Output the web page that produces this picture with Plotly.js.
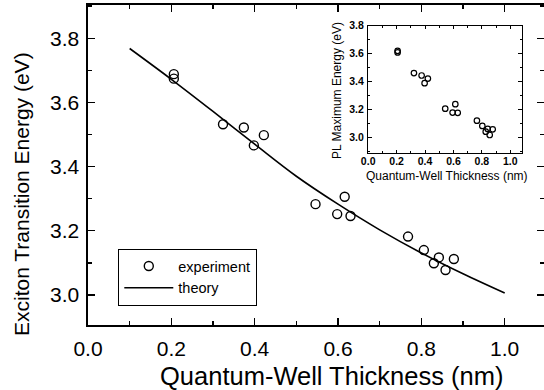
<!DOCTYPE html>
<html>
<head>
<meta charset="utf-8">
<script src="https://cdn.plot.ly/plotly-3.0.1.min.js"></script>
<style>html,body{margin:0;padding:0;background:#fff;}#chart{width:544px;height:390px;}</style>
</head>
<body>
<div id="chart"></div>
<script>
// Main panel: experimental exciton transition energies
const thicknessExp = [0.206, 0.206, 0.324, 0.374, 0.398, 0.422, 0.546, 0.598, 0.616, 0.630, 0.768, 0.806, 0.830, 0.842, 0.858, 0.878];
const energyExp    = [3.688, 3.674, 3.532, 3.522, 3.466, 3.498, 3.283, 3.252, 3.306, 3.246, 3.182, 3.140, 3.099, 3.117, 3.078, 3.112];
// Main panel: theory curve
const thicknessTheory = [0.1, 0.2, 0.3, 0.4, 0.5, 0.6, 0.7, 0.8, 0.9, 1.0];
const energyTheory    = [3.768, 3.672, 3.572, 3.470, 3.370, 3.283, 3.203, 3.131, 3.066, 3.006];
// Inset: PL maximum energy
const thicknessPL = [0.207, 0.207, 0.322, 0.376, 0.397, 0.420, 0.542, 0.594, 0.613, 0.630, 0.765, 0.803, 0.827, 0.841, 0.855, 0.876];
const energyPL    = [3.620, 3.608, 3.460, 3.443, 3.388, 3.421, 3.205, 3.177, 3.237, 3.175, 3.119, 3.081, 3.040, 3.060, 3.016, 3.057];

const xTickVals = [0.0, 0.2, 0.4, 0.6, 0.8, 1.0];
const xTickText = ['0.0', '0.2', '0.4', '0.6', '0.8', '1.0'];
const yTickVals = [3.0, 3.2, 3.4, 3.6, 3.8];
const yTickText = ['3.0', '3.2', '3.4', '3.6', '3.8'];

const FONT = 'Liberation Sans, Arial, Helvetica, sans-serif';

const traces = [
  {
    x: thicknessExp, y: energyExp, type: 'scatter', mode: 'markers', name: 'experiment',
    marker: {symbol: 'circle-open', size: 9, color: 'black', line: {width: 1.4, color: 'black'}},
    xaxis: 'x', yaxis: 'y'
  },
  {
    x: thicknessTheory, y: energyTheory, type: 'scatter', mode: 'lines', name: 'theory',
    line: {color: 'black', width: 1.6, shape: 'spline', smoothing: 1},
    xaxis: 'x', yaxis: 'y'
  },
  {
    x: thicknessPL, y: energyPL, type: 'scatter', mode: 'markers', name: 'PL', showlegend: false,
    marker: {symbol: 'circle-open', size: 5.5, color: 'black', line: {width: 1.2, color: 'black'}},
    xaxis: 'x2', yaxis: 'y2'
  }
];

const axisCommon = {
  showgrid: false, zeroline: false, showline: true, linecolor: 'black',
  ticks: 'inside', tickcolor: 'black', mirror: 'ticks'
};

const layout = {
  width: 544, height: 390,
  margin: {l: 88, r: 0, t: 5, b: 65, pad: 0},
  paper_bgcolor: 'white', plot_bgcolor: 'white',
  font: {family: FONT, color: 'black'},
  showlegend: true,
  legend: {
    x: 0.066, y: 0.238, xanchor: 'left', yanchor: 'top',
    bordercolor: 'black', borderwidth: 1.2, bgcolor: 'white',
    font: {family: FONT, size: 14.5, color: 'black'},
    itemwidth: 49, tracegroupgap: 0
  },
  xaxis: Object.assign({}, axisCommon, {
    range: [0, 1.0943], tickvals: xTickVals, ticktext: xTickText,
    ticklen: 7, tickwidth: 1.3, linewidth: 1.6,
    tickfont: {family: FONT, size: 21, color: 'black'},
    ticklabelstandoff: 4,
    minor: {dtick: 0.1, tick0: 0, ticks: 'inside', ticklen: 4, tickcolor: 'black', tickwidth: 1.3},
    domain: [0, 1]
  }),
  yaxis: Object.assign({}, axisCommon, {
    range: [2.9065, 3.9035], tickvals: yTickVals, ticktext: yTickText,
    ticklen: 7, tickwidth: 1.3, linewidth: 1.6,
    tickfont: {family: FONT, size: 21, color: 'black'},
    ticklabelstandoff: 3,
    minor: {dtick: 0.1, tick0: 3.0, ticks: 'inside', ticklen: 4, tickcolor: 'black', tickwidth: 1.3},
    domain: [0, 1]
  }),
  xaxis2: Object.assign({}, axisCommon, {
    anchor: 'y2', domain: [0.6144, 0.9511], range: [0, 1.08],
    tickvals: xTickVals, ticktext: xTickText,
    ticklen: 3.5, tickwidth: 1, linewidth: 1.2,
    tickfont: {family: FONT, size: 10.5, color: 'black', weight: 'bold'},
    ticklabelstandoff: -2,
    minor: {dtick: 0.1, tick0: 0, ticks: 'inside', ticklen: 2, tickcolor: 'black', tickwidth: 1}
  }),
  yaxis2: Object.assign({}, axisCommon, {
    anchor: 'x2', domain: [0.5366, 0.9353], range: [2.885, 3.8],
    tickvals: yTickVals, ticktext: yTickText,
    ticklen: 3.5, tickwidth: 1, linewidth: 1.2,
    tickfont: {family: FONT, size: 10.5, color: 'black', weight: 'bold'},
    ticklabelstandoff: 1,
    minor: {dtick: 0.1, tick0: 3.0, ticks: 'inside', ticklen: 2, tickcolor: 'black', tickwidth: 1}
  }),
  annotations: [
    {text: 'Quantum-Well Thickness (nm)', xref: 'paper', yref: 'paper',
     x: (158 - 88) / 456, y: (325 - 376) / 320, xanchor: 'left', yanchor: 'middle',
     showarrow: false, font: {family: FONT, size: 25.5, color: 'black'}},
    {text: 'Exciton Transition Energy (eV)', xref: 'paper', yref: 'paper', textangle: -90,
     x: (21 - 88) / 456, y: (325 - 338) / 320, xanchor: 'center', yanchor: 'bottom',
     showarrow: false, font: {family: FONT, size: 21, color: 'black'}},
    {text: 'Quantum-Well Thickness (nm)', xref: 'paper', yref: 'paper',
     x: (446.5 - 88) / 456, y: (325 - 175.5) / 320, xanchor: 'center', yanchor: 'middle',
     showarrow: false, font: {family: FONT, size: 12, color: 'black'}},
    {text: 'PL Maximum Energy (eV)', xref: 'paper', yref: 'paper', textangle: -90,
     x: (337 - 88) / 456, y: (325 - 91) / 320, xanchor: 'center', yanchor: 'middle',
     showarrow: false, font: {family: FONT, size: 12, color: 'black'}}
  ]
};

Plotly.newPlot('chart', traces, layout, {staticPlot: true, displayModeBar: false});
</script>
</body>
</html>
